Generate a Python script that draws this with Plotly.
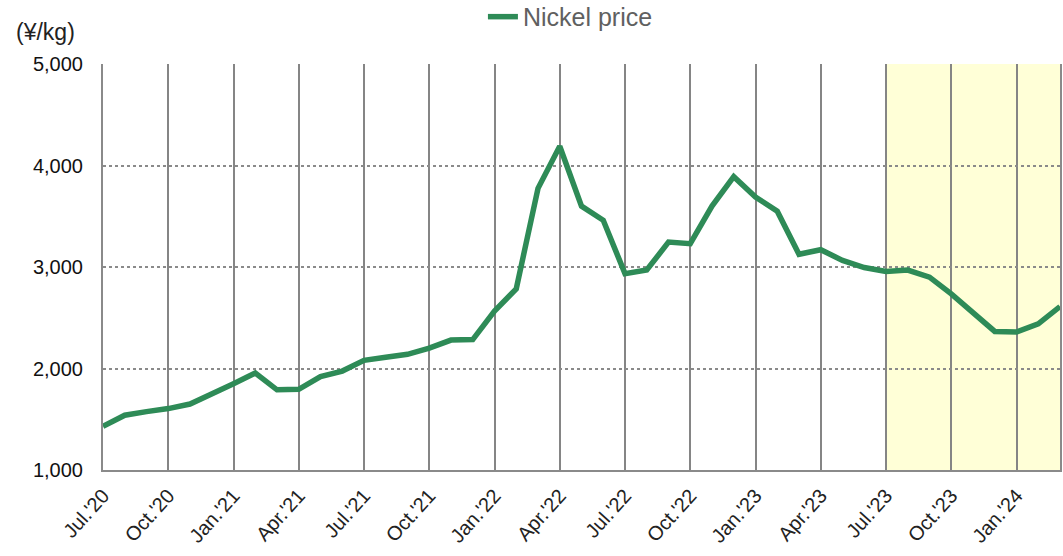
import plotly.graph_objects as go

# Monthly nickel price, Jul. 2020 - Mar. 2024 (yen per kg)
months = [
    "Jul.'20", "Aug.'20", "Sep.'20", "Oct.'20", "Nov.'20", "Dec.'20",
    "Jan.'21", "Feb.'21", "Mar.'21", "Apr.'21", "May.'21", "Jun.'21",
    "Jul.'21", "Aug.'21", "Sep.'21", "Oct.'21", "Nov.'21", "Dec.'21",
    "Jan.'22", "Feb.'22", "Mar.'22", "Apr.'22", "May.'22", "Jun.'22",
    "Jul.'22", "Aug.'22", "Sep.'22", "Oct.'22", "Nov.'22", "Dec.'22",
    "Jan.'23", "Feb.'23", "Mar.'23", "Apr.'23", "May.'23", "Jun.'23",
    "Jul.'23", "Aug.'23", "Sep.'23", "Oct.'23", "Nov.'23", "Dec.'23",
    "Jan.'24", "Feb.'24", "Mar.'24",
]
nickel_price = [
    1430, 1540, 1575, 1605, 1650, 1745,
    1850, 1955, 1790, 1795, 1920, 1975,
    2080, 2110, 2140, 2200, 2280, 2285,
    2565, 2785, 3775, 4190, 3600, 3460,
    2935, 2970, 3245, 3230, 3600, 3890,
    3690, 3550, 3125, 3170, 3065, 2995,
    2955, 2970, 2900, 2735, 2545, 2365,
    2360, 2440, 2610,
]
quarter_ticks = months[::3]
y_ticks = [1000, 2000, 3000, 4000, 5000]
y_tick_text = ["1,000", "2,000", "3,000", "4,000", "5,000"]
highlight_start, highlight_end = "Jul.'23", "Mar.'24"

FONT = "Arial, Liberation Sans, sans-serif"

fig = go.Figure()
fig.add_trace(go.Scatter(
    x=months, y=nickel_price, mode="lines", name="Nickel price",
    line=dict(color="#2e8b57", width=5.5),
))

# shaded period from Jul.'23 onward
fig.add_shape(
    type="rect", xref="x", yref="paper",
    x0=months.index(highlight_start), x1=months.index(highlight_end),
    y0=0, y1=1, fillcolor="#ffffd7", line_width=0, layer="below",
)

fig.add_annotation(
    text="(¥/kg)", xref="paper", yref="paper", x=-0.0596, y=1.079,
    xanchor="center", yanchor="middle", showarrow=False,
    font=dict(family=FONT, size=23, color="#222222"),
)

fig.update_layout(
    width=1063, height=556,
    margin=dict(l=103, r=3, t=64, b=86, autoexpand=False),
    plot_bgcolor="white", paper_bgcolor="white",
    font=dict(family=FONT, color="#111111"),
    showlegend=True,
    legend=dict(
        orientation="h", x=0.397, xanchor="left", y=1.116, yanchor="middle",
        font=dict(family=FONT, size=25, color="#606060"),
        bgcolor="rgba(0,0,0,0)",
    ),
    xaxis=dict(
        type="category", range=[0, len(months) - 1],
        tickmode="array", tickvals=quarter_ticks, ticktext=quarter_ticks,
        tickangle=-48, tickfont=dict(size=20, color="#222222"),
        ticklabelstandoff=4,
        showgrid=True, gridcolor="#858585", gridwidth=2,
        showline=True, linecolor="#8a8a8a", linewidth=2,
        ticks="", zeroline=False,
    ),
    yaxis=dict(
        range=[1000, 5000], tickvals=y_ticks, ticktext=y_tick_text,
        tickfont=dict(size=20, color="#111111"), ticklabelstandoff=14,
        showgrid=True, gridcolor="#8a8a8a", gridwidth=1.5, griddash="dot",
        showline=True, linecolor="#8a8a8a", linewidth=2, mirror=True,
        ticks="", ticklen=0, zeroline=False,
    ),
)

fig.write_html("out.html")
